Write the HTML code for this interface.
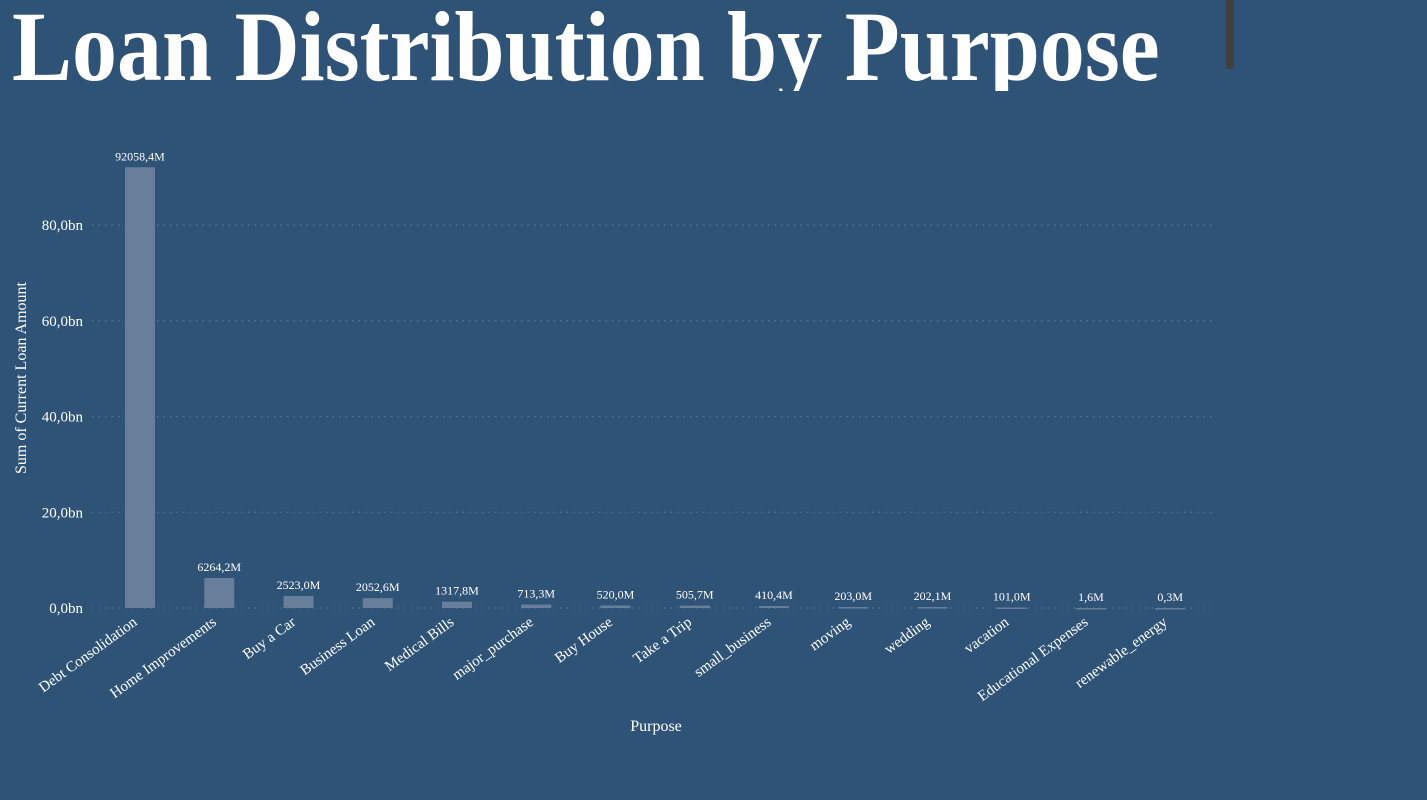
<!DOCTYPE html>
<html><head><meta charset="utf-8"><style>
html,body{margin:0;padding:0;background:#2f5277;width:1427px;height:800px;overflow:hidden}
#title{position:absolute;left:12px;top:0;height:91px;overflow:hidden;width:1200px}
#title span{position:absolute;left:0;top:-3px;transform-origin:0 0;transform:scaleX(0.9);font:bold 100px "Liberation Serif",serif;color:#fff;white-space:nowrap;line-height:1}
#sb{position:absolute;left:1226px;top:0;width:8px;height:69px;background:#404040}
svg{position:absolute;left:0;top:0}
text{font-family:"Liberation Serif",serif;fill:#fff}
</style></head><body>
<div id="title"><span>Loan Distribution by Purpose</span></div>
<div id="sb"></div>
<svg id="chart" width="1427" height="800"></svg>
<script>
const categories=["Debt Consolidation","Home Improvements","Buy a Car","Business Loan","Medical Bills","major_purchase","Buy House","Take a Trip","small_business","moving","wedding","vacation","Educational Expenses","renewable_energy"];
const values=[92058.4,6264.2,2523.0,2052.6,1317.8,713.3,520.0,505.7,410.4,203.0,202.1,101.0,1.6,0.3];
const valueLabels=["92058,4M","6264,2M","2523,0M","2052,6M","1317,8M","713,3M","520,0M","505,7M","410,4M","203,0M","202,1M","101,0M","1,6M","0,3M"];
const yTicks=[0,20000,40000,60000,80000];
const yTickLabels=["0,0bn","20,0bn","40,0bn","60,0bn","80,0bn"];
const NS="http://www.w3.org/2000/svg";
const svg=document.getElementById('chart');
const y0=608,pxPer=(608-225)/80000;
const y=v=>y0-v*pxPer;
const x=i=>140+i*79.25;
function mk(t,a){const e=document.createElementNS(NS,t);for(const k in a)e.setAttribute(k,a[k]);svg.appendChild(e);return e;}
yTicks.forEach((t,i)=>{
 const g=mk('line',{x1:92,x2:1212,y1:y(t),y2:y(t),stroke:'#5a7694','stroke-width':1.3,'stroke-dasharray':'1.5 5'});
 
 
 const l=mk('text',{x:83,y:y(t)+5,'text-anchor':'end','font-size':15});
 l.textContent=yTickLabels[i];
 
 
});
categories.forEach((c,i)=>{
 const top=y(values[i]);
 const r=mk('rect',{x:x(i)-15,y:top,width:30,height:Math.max(y0-top,1.5),fill:'#677f9b'});
 
 
 const v=mk('text',{x:x(i),y:top-7,'text-anchor':'middle','font-size':12});
 v.textContent=valueLabels[i];
 
 
 const l=mk('text',{x:0,y:0,'text-anchor':'end','font-size':15,transform:`translate(${x(i)-2},${y0+16}) rotate(-36)`});
 l.textContent=c;
 
 
});
const xt=mk('text',{x:656,y:731,'text-anchor':'middle','font-size':16});
xt.textContent='Purpose';


const yt=mk('text',{x:0,y:0,'text-anchor':'middle','font-size':16,transform:'translate(26,378) rotate(-90)'});
yt.textContent='Sum of Current Loan Amount';


</script>
</body></html>
